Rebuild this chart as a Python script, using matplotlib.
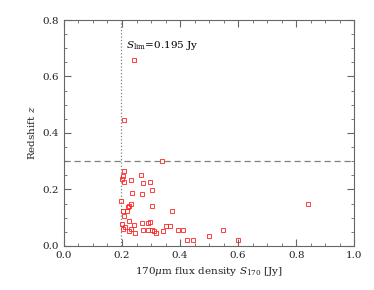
import matplotlib
matplotlib.use('Agg')
import matplotlib.pyplot as plt
from matplotlib.ticker import MultipleLocator

# 170um flux density [Jy] and redshift
flux = [0.337, 0.207, 0.202, 0.264, 0.201, 0.230, 0.208, 0.271, 0.297,
        0.234, 0.269, 0.302, 0.198, 0.230, 0.225, 0.221, 0.302, 0.371,
        0.216, 0.205, 0.208, 0.224, 0.268, 0.289, 0.298, 0.201, 0.243,
        0.211, 0.231, 0.351, 0.367, 0.202, 0.225, 0.245, 0.272, 0.289,
        0.304, 0.310, 0.316, 0.340, 0.392, 0.410, 0.423, 0.446, 0.499,
        0.840, 0.547, 0.600, 0.240, 0.206]
redshift = [0.299, 0.264, 0.249, 0.251, 0.236, 0.232, 0.225, 0.222, 0.227,
            0.186, 0.185, 0.197, 0.159, 0.150, 0.142, 0.137, 0.143, 0.123,
            0.123, 0.122, 0.105, 0.090, 0.081, 0.080, 0.084, 0.078, 0.073,
            0.066, 0.060, 0.070, 0.070, 0.059, 0.054, 0.046, 0.057, 0.057,
            0.057, 0.054, 0.045, 0.054, 0.057, 0.057, 0.022, 0.021, 0.036,
            0.150, 0.057, 0.020, 0.657, 0.446]
s_lim = 0.195
z_cut = 0.3

plt.rcParams['font.family'] = 'DejaVu Serif'
plt.rcParams['mathtext.fontset'] = 'dejavuserif'

fig = plt.figure(figsize=(3.74, 2.9), dpi=100)
ax = fig.add_axes([0.171, 0.152, 0.776, 0.779])

ax.axvline(s_lim, color='gray', ls=':', lw=0.9, zorder=1)
ax.axhline(z_cut, color='gray', ls=(0, (5, 3)), lw=0.9, zorder=1)
ax.plot(flux, redshift, 's', ms=2.9, mfc='none', mec='#ff2020', mew=0.6, zorder=3)
ax.text(0.214, 0.71, r'$S_{\rm lim}$=0.195 Jy', fontsize=7.5, va='center')

ax.set_xlim(0, 1.0)
ax.set_ylim(0, 0.8)
ax.xaxis.set_major_locator(MultipleLocator(0.2))
ax.xaxis.set_minor_locator(MultipleLocator(0.05))
ax.yaxis.set_major_locator(MultipleLocator(0.2))
ax.yaxis.set_minor_locator(MultipleLocator(0.05))
ax.tick_params(which='both', direction='in', top=True, right=True,
               color='#666666', labelsize=7.5, labelcolor='#222222')
ax.tick_params(which='major', length=5, width=0.8)
ax.tick_params(which='minor', length=2.5, width=0.6)
for sp in ax.spines.values():
    sp.set_color('#666666')
ax.xaxis.set_major_formatter(matplotlib.ticker.FormatStrFormatter('%.1f'))
ax.yaxis.set_major_formatter(matplotlib.ticker.FormatStrFormatter('%.1f'))

ax.set_xlabel(r'170$\mu$m flux density $S_{170}$ [Jy]', fontsize=7.5, color='#222222')
ax.set_ylabel(r'Redshift $z$', fontsize=7.5, color='#222222')

fig.savefig('out.png', dpi=100)
